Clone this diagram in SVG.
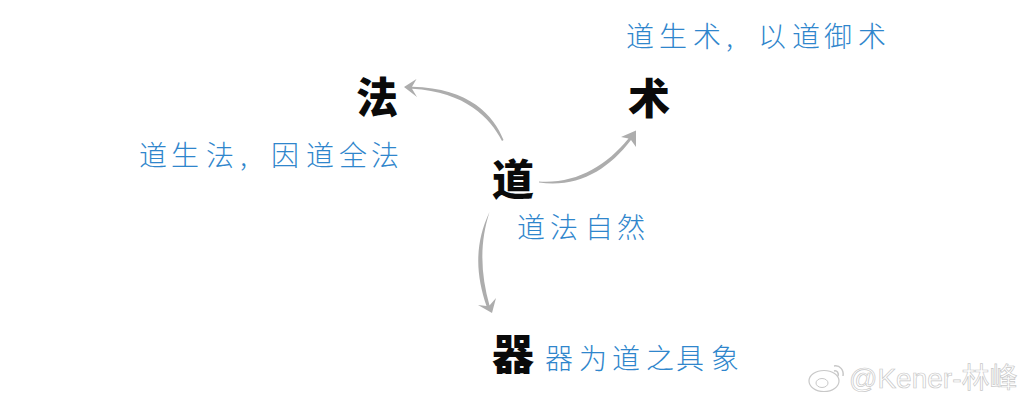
<svg xmlns="http://www.w3.org/2000/svg" width="1024" height="404" viewBox="0 0 1024 404">
<style>
.big{font-family:"Noto Sans CJK SC","Noto Sans CJK JP",sans-serif;font-size:42px;font-weight:900;fill:#0a0a0a}
.note{font-family:"Noto Sans CJK SC","Noto Sans CJK JP",sans-serif;font-size:28px;font-weight:200;fill:#2f86cc}
.arrow{fill:#adadad}
.mark{font-family:"Liberation Sans","Noto Sans CJK SC",sans-serif;font-size:28px;fill:#fff;stroke:#c8c8c8;stroke-width:.7}
</style>
<rect width="1024" height="404" fill="#fff"/>
<g id="connectors">
<path class="arrow" d="M503.500 140C494 116 470 88 412 86.800L416.500 79L404 87L417 97L412 88.800C466 92 490 118 502 141Z"/>
<path class="arrow" d="M539 181.500C576 184 606 166 628.500 138.500L621 137L636 130.500L636 147L631 140C608 170 578 188 539 182.500Z"/>
<path class="arrow" d="M489.500 212C474 245 476 275 486.500 306L478 305L492 313L496 298L489.500 305.500C481 275 479 245 489.500 212Z"/>
</g>
<g id="node-fa"><text class="big" x="356" y="113">法</text></g>
<g id="node-shu"><text class="big" x="628" y="114">术</text></g>
<g id="node-dao"><text class="big" x="492" y="195">道</text></g>
<g id="node-qi"><text class="big" x="492" y="370">器</text></g>
<g id="note-shu"><text class="note" x="626 659 693 726 758 792 824 858" y="47">道生术,以道御术</text></g>
<g id="note-fa"><text class="note" x="139 171 206 240 271 306 339 371" y="166">道生法,因道全法</text></g>
<g id="note-dao"><text class="note" x="517 550 585 617" y="238">道法自然</text></g>
<g id="note-qi"><text class="note" x="545 579 612 646 676 711" y="369">器为道之具象</text></g>
<g id="watermark">
<ellipse cx="824" cy="381" rx="15" ry="10.500" fill="#fff" stroke="#c8c8c8" stroke-width="1.200"/>
<ellipse cx="822" cy="383" rx="6" ry="4.500" fill="#fff" stroke="#c8c8c8"/>
<path d="M834 366C840 365 844 370 843 376M834 371C837 370 839 373 838 376" fill="none" stroke="#c8c8c8" stroke-width="1.500"/>
<text class="mark" x="849" y="388">@Kener-林峰</text>
</g>
</svg>
